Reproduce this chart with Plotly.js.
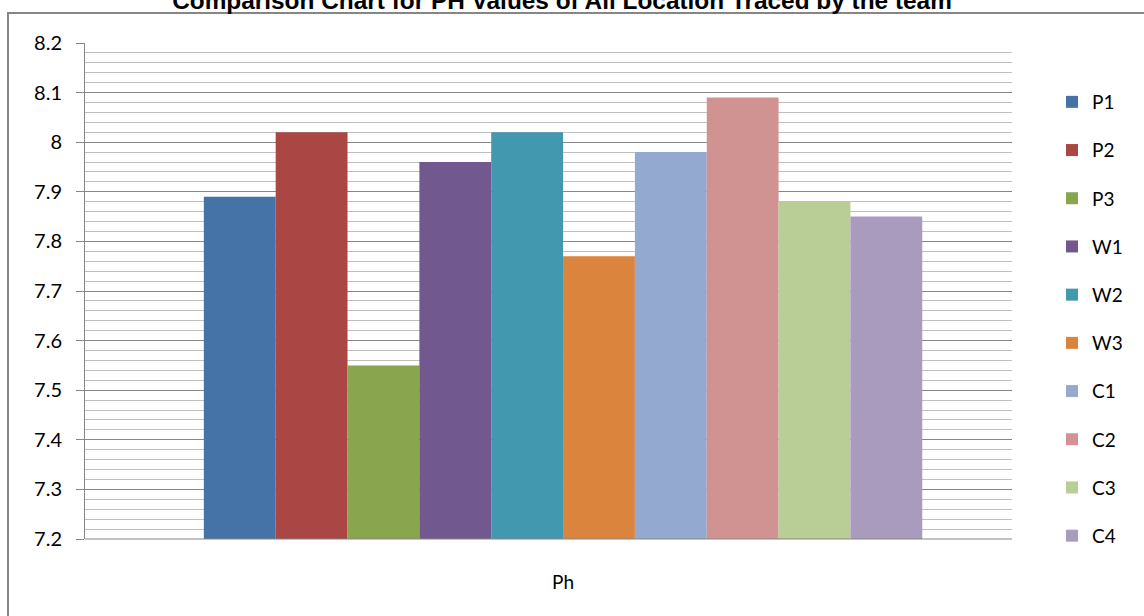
<!DOCTYPE html>
<html>
<head>
<meta charset="utf-8">
<script src="https://cdn.plot.ly/plotly-3.0.1.min.js"></script>
<style>html,body{margin:0;padding:0;background:#fff;}#chart{width:1144px;height:616px;}</style>
</head>
<body>
<div id="chart"></div>
<script>
const categories = ["Ph"];
const seriesNames = ["P1","P2","P3","W1","W2","W3","C1","C2","C3","C4"];
const seriesValues = [7.89, 8.02, 7.55, 7.96, 8.02, 7.77, 7.98, 8.09, 7.88, 7.85];
const seriesColors = ["#4572A7","#AA4643","#89A54E","#71588F","#4198AF","#DB843D","#93A9CF","#D19392","#B9CD96","#A99BBD"];
const yTicks = [7.2,7.3,7.4,7.5,7.6,7.7,7.8,7.9,8,8.1,8.2];
const yTickText = ["7.2","7.3","7.4","7.5","7.6","7.7","7.8","7.9","8","8.1","8.2"];

const FONT = "Lato, 'Liberation Sans', sans-serif";
const traces = seriesNames.map((n,i)=>({
  type:'bar', name:n, x:categories, y:[seriesValues[i]],
  marker:{color:seriesColors[i], line:{width:0}},
  legendgroup:n, hoverinfo:'skip'
}));

const L=85, R=132, T=43, B=77, W=1144, H=616;
const pw=W-L-R, ph=H-T-B;
const px=(x)=>(x-L)/pw, py=(y)=>(H-B-y)/ph;

const layout = {
  width:W, height:H,
  margin:{l:L, r:R, t:T, b:B, pad:0, autoexpand:false},
  paper_bgcolor:'#fff', plot_bgcolor:'#fff',
  font:{family:FONT, color:'#000', size:19},
  title:{text:'Comparison Chart for PH Values of All Location Traced by the team',
    font:{family:"Arial, 'Liberation Sans', sans-serif", size:24.4, color:'#000', weight:'bold'},
    x:562/W, xref:'container', y:1, yref:'container', yanchor:'middle', xanchor:'center', automargin:false},
  barmode:'group', bargap:0.225, bargroupgap:0,
  showlegend:true,
  legend:{x:px(1052), xanchor:'left', y:py(83), yanchor:'top', traceorder:'grouped',
    tracegroupgap:20.5, font:{family:FONT, size:19, color:'#000'}, itemwidth:30,
    bgcolor:'rgba(0,0,0,0)'},
  xaxis:{type:'category', range:[-0.5157, 0.4843], showgrid:false, zeroline:false,
    showline:false, ticks:'', ticklabelstandoff:30, tickfont:{family:FONT, size:19}},
  yaxis:{range:[7.2,8.2], tickvals:yTicks, ticktext:yTickText, showgrid:true,
    gridcolor:'#868686', gridwidth:1, zeroline:false, showline:true, linecolor:'#868686',
    linewidth:1, ticks:'outside', ticklen:8, tickcolor:'#868686', tickfont:{family:FONT, size:20},
    ticklabelstandoff:10,
    minor:{dtick:0.02, showgrid:true, gridcolor:'#BFBFBF', gridwidth:1, ticks:''}},
  shapes:[
    {type:'line', xref:'paper', yref:'paper', x0:0, x1:1, y0:0, y1:0, line:{color:'#868686', width:1}},
    {type:'rect', xref:'paper', yref:'paper', x0:px(8), x1:px(1150), y0:py(13), y1:py(625),
     line:{color:'#868686', width:2}, layer:'below'}
  ]
};
Plotly.newPlot('chart', traces, layout, {staticPlot:true, displayModeBar:false});
</script>
</body>
</html>
